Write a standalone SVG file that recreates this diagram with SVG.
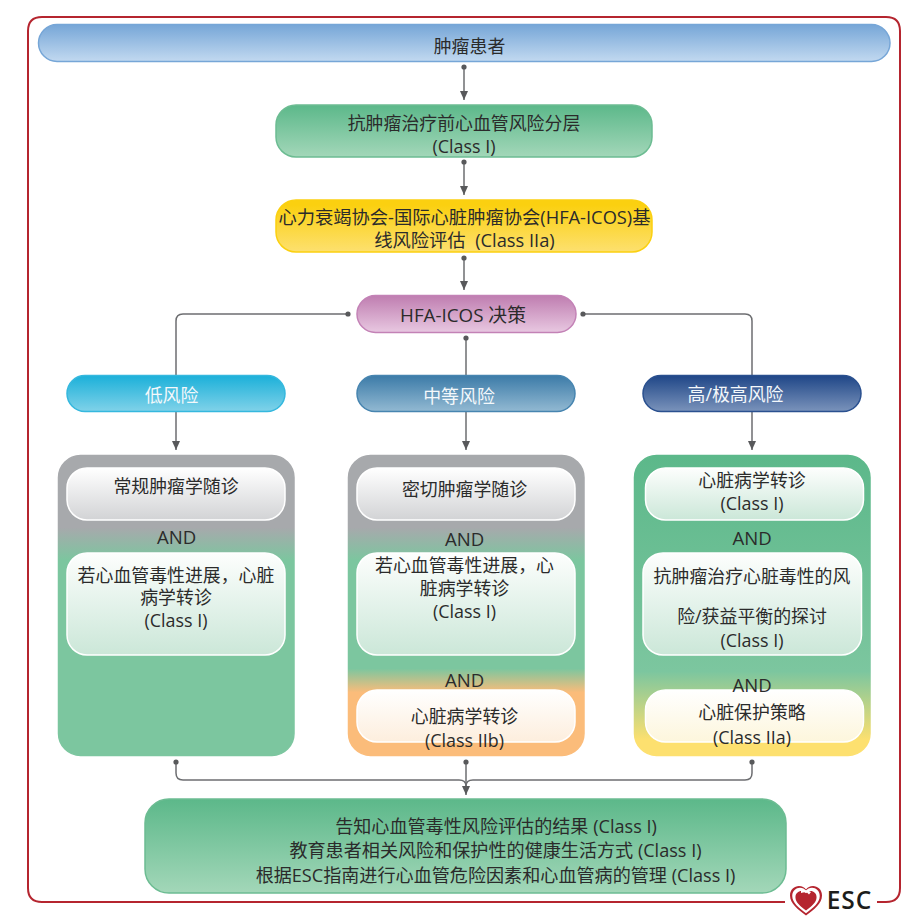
<svg xmlns="http://www.w3.org/2000/svg" width="920" height="921" viewBox="0 0 920 921">
<style>
text{font-family:"Open Sans","Noto Sans CJK SC",sans-serif;font-size:17.9px;fill:#2b2b2b;text-anchor:middle}
.w{fill:#f4f8fb}
.n{font-size:18.600px}
.h{font-size:18.300px;white-space:pre}
.c{fill:none;stroke:#6d6e71;stroke-width:1.5}
.i{stroke:#fff;stroke-width:1.5}
</style>
<defs>
<linearGradient id="gb" x1="0" y1="0" x2="0" y2="1"><stop offset="0" stop-color="#76a6d7"/><stop offset="1" stop-color="#c2d9f0"/></linearGradient>
<linearGradient id="gg" x1="0" y1="0" x2="0" y2="1"><stop offset="0" stop-color="#5cb88a"/><stop offset="1" stop-color="#a3d7b9"/></linearGradient>
<linearGradient id="gy" x1="0" y1="0" x2="0" y2="1"><stop offset="0.1" stop-color="#fbd010"/><stop offset="1" stop-color="#fde06f"/></linearGradient>
<linearGradient id="gp" x1="0" y1="0" x2="0" y2="1"><stop offset="0" stop-color="#bf7db0"/><stop offset="1" stop-color="#e8c8e1"/></linearGradient>
<linearGradient id="gl" x1="0" y1="0" x2="0" y2="1"><stop offset="0" stop-color="#1bb0d9"/><stop offset="1" stop-color="#80d2e9"/></linearGradient>
<linearGradient id="gm" x1="0" y1="0" x2="0" y2="1"><stop offset="0" stop-color="#3c7ba8"/><stop offset="1" stop-color="#92b9d2"/></linearGradient>
<linearGradient id="gh" x1="0" y1="0" x2="0" y2="1"><stop offset="0" stop-color="#1f4687"/><stop offset="1" stop-color="#7a93bb"/></linearGradient>
<linearGradient id="c1" x1="0" y1="0" x2="0" y2="1"><stop offset="0.24" stop-color="#a7a9ac"/><stop offset="0.35" stop-color="#7cc69f"/><stop offset="1" stop-color="#7cc69f"/></linearGradient>
<linearGradient id="c2" x1="0" y1="0" x2="0" y2="1"><stop offset="0.24" stop-color="#a7a9ac"/><stop offset="0.35" stop-color="#7cc69f"/><stop offset="0.71" stop-color="#7cc69f"/><stop offset="0.79" stop-color="#fbbc7a"/><stop offset="1" stop-color="#fbbc7a"/></linearGradient>
<linearGradient id="c3" x1="0" y1="0" x2="0" y2="1"><stop offset="0" stop-color="#5cb88a"/><stop offset="0.72" stop-color="#7cc69f"/><stop offset="0.95" stop-color="#fde06f"/><stop offset="1" stop-color="#fde06f"/></linearGradient>
<linearGradient id="ig" x1="0" y1="0" x2="0" y2="1"><stop offset="0" stop-color="#fff"/><stop offset="1" stop-color="#d2d3d5"/></linearGradient>
<linearGradient id="in" x1="0" y1="0" x2="0" y2="1"><stop offset="0" stop-color="#fdfefd"/><stop offset="1" stop-color="#cbe7d8"/></linearGradient>
<linearGradient id="io" x1="0" y1="0" x2="0" y2="1"><stop offset="0" stop-color="#fff"/><stop offset="1" stop-color="#fdeedd"/></linearGradient>
<linearGradient id="iy" x1="0" y1="0" x2="0" y2="1"><stop offset="0" stop-color="#fff"/><stop offset="1" stop-color="#fdf6dc"/></linearGradient>
<marker id="a" markerUnits="userSpaceOnUse" markerWidth="10" markerHeight="8" refX="9" refY="4" orient="auto"><path d="M0 0L9 4L0 8Z" fill="#58595b"/></marker>
<marker id="d" markerUnits="userSpaceOnUse" markerWidth="6" markerHeight="6" refX="3" refY="3"><circle cx="3" cy="3" r="2.6" fill="#58595b"/></marker>
<path id="hp" d="M0 15C-8 9 -16 3 -16 -5C-16 -11 -11.500 -14.500 -7 -14.500C-4 -14.500 -1.500 -13 0 -11C1.500 -13 4 -14.500 7 -14.500C11.500 -14.500 16 -11 16 -5C16 3 8 9 0 15Z"/>
</defs>
<rect width="920" height="921" fill="#fff"/>
<path id="frame" d="M785 902H42Q28 902 28 888V31Q28 17 42 17H886Q900 17 900 31V888Q900 902 886 902H877" fill="none" stroke="#b5252f" stroke-width="2"/>
<g id="connectors">
<path class="c" d="M464 67V100" marker-start="url(#d)" marker-end="url(#a)"/>
<path class="c" d="M464 162V195" marker-start="url(#d)" marker-end="url(#a)"/>
<path class="c" d="M464 258V290" marker-start="url(#d)" marker-end="url(#a)"/>
<path class="c" d="M348 314H183Q176 314 176 321V450" marker-start="url(#d)" marker-end="url(#a)"/>
<path class="c" d="M466 338V450" marker-start="url(#d)" marker-end="url(#a)"/>
<path class="c" d="M583 314H745Q752 314 752 321V450" marker-start="url(#d)" marker-end="url(#a)"/>
<path class="c" d="M176 762V773Q176 780 183 780H459Q466 780 466 786" marker-start="url(#d)"/>
<path class="c" d="M752 762V773Q752 780 745 780H473Q466 780 466 786" marker-start="url(#d)"/>
<path class="c" d="M466 762V795" marker-start="url(#d)" marker-end="url(#a)"/>
</g>
<g id="n-patient"><rect x="38.500" y="24.500" width="851.500" height="37" rx="18.500" fill="url(#gb)" stroke="#76a6d7" stroke-width="1.500"/><text x="469.500" y="52.500">肿瘤患者</text></g>
<g id="n-strat"><rect x="276" y="105" width="376" height="52" rx="20" fill="url(#gg)" stroke="#6cbc92" stroke-width="1.500"/><text x="464" y="129.500">抗肿瘤治疗前心血管风险分层</text><text x="464" y="152.500">(Class I)</text></g>
<g id="n-hfa"><rect x="276" y="200" width="376" height="52" rx="20" fill="url(#gy)" stroke="#fbd010" stroke-width="1.500"/><text class="h" x="464.500" y="224">心力衰竭协会-国际心脏肿瘤协会(HFA-ICOS)基</text><text class="h" x="464.500" y="247">线风险评估  (Class IIa)</text></g>
<g id="n-decision"><rect x="357" y="295.500" width="219" height="37" rx="18.500" fill="url(#gp)" stroke="#c382b6" stroke-width="1.500"/><text x="463" y="321.500" style="font-size:18.800px">HFA-ICOS 决策</text></g>
<g id="n-low"><rect x="67" y="375.500" width="218" height="36" rx="18" fill="url(#gl)" stroke="#35b8de" stroke-width="1.500"/><text class="w" x="171.500" y="401.500">低风险</text></g>
<g id="n-mid"><rect x="357" y="375.500" width="218" height="36" rx="18" fill="url(#gm)" stroke="#4785b0" stroke-width="1.500"/><text class="w" x="459" y="402.500">中等风险</text></g>
<g id="n-high"><rect x="643" y="375.500" width="218" height="36" rx="18" fill="url(#gh)" stroke="#2a508f" stroke-width="1.500"/><text class="w" x="735.500" y="400.500">高/极高风险</text></g>
<g id="n-col-low"><rect x="58.500" y="455.500" width="235.500" height="300" rx="22" fill="url(#c1)" stroke="url(#c1)" stroke-width="1.500"/>
<rect class="i" x="67" y="468" width="218" height="52" rx="20" fill="url(#ig)"/><text x="176" y="493">常规肿瘤学随诊</text><text class="n" x="176.500" y="543.500">AND</text>
<rect class="i" x="67" y="553" width="218" height="102" rx="20" fill="url(#in)"/><text x="176" y="581.500">若心血管毒性进展，心脏</text><text x="176" y="604">病学转诊</text><text x="176" y="626.500">(Class I)</text></g>
<g id="n-col-mid"><rect x="348.500" y="455.500" width="235.500" height="300" rx="22" fill="url(#c2)" stroke="url(#c2)" stroke-width="1.500"/>
<rect class="i" x="357" y="468" width="218" height="52" rx="20" fill="url(#ig)"/><text x="464.500" y="496">密切肿瘤学随诊</text><text class="n" x="464.500" y="545.500">AND</text>
<rect class="i" x="357" y="553" width="218" height="102" rx="20" fill="url(#in)"/><text x="464.500" y="571.500">若心血管毒性进展，心</text><text x="464.500" y="595">脏病学转诊</text><text x="464.500" y="617.500">(Class I)</text><text class="n" x="464.500" y="686.500">AND</text>
<rect class="i" x="357" y="690" width="218" height="52" rx="20" fill="url(#io)"/><text x="464.500" y="722.500">心脏病学转诊</text><text x="464.500" y="746.500">(Class IIb)</text></g>
<g id="n-col-high"><rect x="634.500" y="455.500" width="235.500" height="300" rx="22" fill="url(#c3)" stroke="url(#c3)" stroke-width="1.500"/>
<rect class="i" x="645.500" y="468" width="218" height="52" rx="20" fill="url(#in)"/><text x="752" y="486.500">心脏病学转诊</text><text x="752" y="510">(Class I)</text><text class="n" x="752" y="544.500">AND</text>
<rect class="i" x="643" y="553" width="218.500" height="102" rx="20" fill="url(#in)"/><text x="752" y="582.500">抗肿瘤治疗心脏毒性的风</text><text x="752" y="622.500">险/获益平衡的探讨</text><text x="752" y="647">(Class I)</text>
<rect class="i" x="645.500" y="690" width="218" height="52" rx="20" fill="url(#iy)"/><text class="n" x="752" y="691.500">AND</text><text x="752" y="718.500">心脏保护策略</text><text x="752" y="744">(Class IIa)</text></g>
<g id="n-bottom"><rect x="145" y="799" width="641" height="94" rx="24" fill="url(#gg)" stroke="#6cbc92" stroke-width="1.500"/><text x="496" y="833" style="font-size:18.100px">告知心血管毒性风险评估的结果 (Class I)</text><text x="495.500" y="857" style="font-size:18.100px">教育患者相关风险和保护性的健康生活方式 (Class I)</text><text x="495.500" y="882" style="font-size:18.100px">根据ESC指南进行心血管危险因素和心血管病的管理 (Class I)</text></g>
<g id="logo"><rect x="786" y="884" width="40" height="32" fill="#fff"/><use href="#hp" transform="translate(806 900.500)" fill="#b5252f"/><use href="#hp" transform="translate(806 900.300) scale(.86)" fill="#fff"/><use href="#hp" transform="translate(806 900.500) scale(.66)" fill="#b5252f"/><path d="M801 890.500Q806 889 811 892L809 894.500L807 892.500Q804 892 801 893Z" fill="#fff"/>
<text x="849.500" y="909" style="font-family:'Open Sans',sans-serif;font-size:24.500px;font-weight:600;fill:#1d1d1b;letter-spacing:1px">ESC</text></g>
</svg>
